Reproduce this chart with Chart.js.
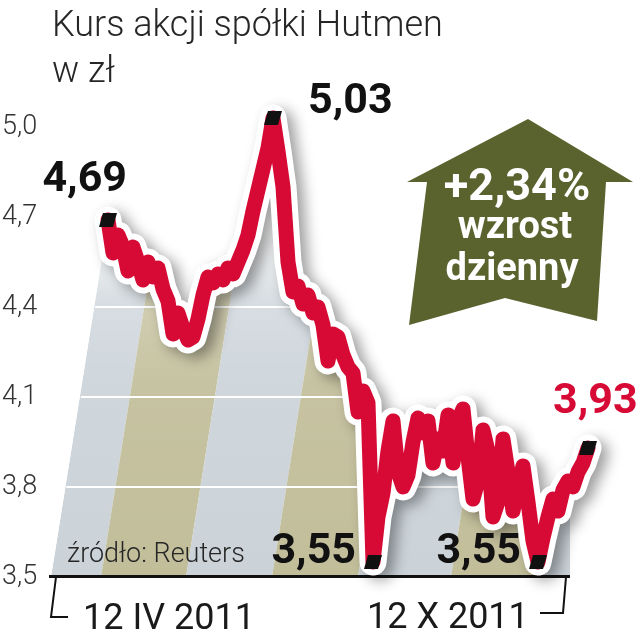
<!DOCTYPE html>
<html lang="pl">
<head>
<meta charset="utf-8">
<title>Kurs akcji spółki Hutmen</title>
<script src="https://cdn.jsdelivr.net/npm/chart.js@4.4.1/dist/chart.umd.min.js"></script>
<style>
html,body{margin:0;padding:0;background:#fff;}
#wrap{width:642px;height:640px;}
</style>
</head>
<body>
<div id="wrap"><canvas id="chart" width="642" height="640"></canvas></div>
<script>
/* Data */
const prices = [
  4.69, 4.58, 4.64, 4.60, 4.52, 4.60, 4.55, 4.49, 4.55, 4.50,
  4.53, 4.46, 4.42, 4.31, 4.38, 4.33, 4.29, 4.30, 4.36, 4.44,
  4.50, 4.48, 4.51, 4.49, 4.53, 4.51, 4.55, 4.59, 4.64, 4.72,
  4.79, 4.86, 4.93, 5.03, 4.92, 4.80, 4.55, 4.45, 4.47, 4.41,
  4.44, 4.38, 4.40, 4.34, 4.22, 4.31, 4.30, 4.24, 4.20, 4.18,
  4.05, 4.12, 4.08,
  3.55, 3.70, 3.78, 3.92, 4.02, 3.85, 3.80, 3.84, 3.95, 4.03,
  3.98, 4.02, 3.88, 3.96, 3.92, 4.04, 3.88, 4.02, 4.06, 3.90,
  3.76, 3.82, 3.99, 3.92, 3.70, 3.75, 3.96, 3.85, 3.72, 3.80,
  3.87, 3.75, 3.62, 3.55, 3.63, 3.70, 3.76, 3.72, 3.79, 3.82,
  3.80, 3.85, 3.88, 3.93
];
const markIdx = [0, 33, 53, 86, 96];
const yTicks = [3.5, 3.8, 4.1, 4.4, 4.7, 5.0];
const xLabels = ['12 IV 2011', '12 X 2011'];
const titleLines = ['Kurs akcji spółki Hutmen', 'w zł'];
const badgeLines = ['+2,34%', 'wzrost', 'dzienny'];
const sourceText = 'źródło: Reuters';

/* Styles */
const RED = '#d70a35', OLIVE = '#5a622e', INK = '#262626';
const SLANT = 0.16;
const bandEdges = [51, 101, 186, 272, 358, 451, 535, 660];
const bandColors = ['#cbd3d9', '#c2be9a'];
const labelPos = [
  {dx: 19, dy: -29, align: 'right', color: '#111'},
  {dx: 35, dy: -5, align: 'left', color: '#111'},
  {dx: -17, dy: 1, align: 'right', color: '#111'},
  {dx: -17, dy: 1, align: 'right', color: '#111'},
  {dx: -35, dy: -35, align: 'left', color: RED}
];
const fmt = (v, d) => v.toFixed(d).replace('.', ',');

/* small slanted square marker */
const mark = document.createElement('canvas');
mark.width = 18; mark.height = 16;
const mc = mark.getContext('2d');
mc.fillStyle = '#111';
mc.beginPath(); mc.moveTo(4, 1); mc.lineTo(18, 1); mc.lineTo(14, 15); mc.lineTo(0, 15); mc.closePath(); mc.fill();

/* banded background under the line + gridlines + baseline */
const bandsPlugin = {
  id: 'bands',
  beforeDatasetsDraw(chart) {
    const {ctx, chartArea: a, scales: {y}} = chart;
    const pts = chart.getDatasetMeta(0).data;
    const bottom = a.bottom, right = 570, h = bottom - a.top;
    ctx.save();
    ctx.beginPath();
    ctx.moveTo(a.left - 1, bottom);
    pts.forEach(p => ctx.lineTo(p.x, p.y));
    ctx.lineTo(pts[pts.length - 1].x, bottom);
    ctx.closePath();
    ctx.clip();
    ctx.beginPath(); ctx.rect(0, 0, right, bottom); ctx.clip();
    for (let i = 0; i < bandEdges.length - 1; i++) {
      const l = bandEdges[i], r = bandEdges[i + 1];
      ctx.fillStyle = bandColors[i % 2];
      ctx.beginPath();
      ctx.moveTo(l, bottom); ctx.lineTo(r, bottom);
      ctx.lineTo(r + SLANT * h, a.top); ctx.lineTo(l + SLANT * h, a.top);
      ctx.closePath(); ctx.fill();
    }
    const g = ctx.createLinearGradient(0, a.top, 0, bottom);
    g.addColorStop(0, 'rgba(255,255,255,1)');
    g.addColorStop(0.27, 'rgba(255,255,255,1)');
    g.addColorStop(0.42, 'rgba(255,255,255,0.25)');
    g.addColorStop(0.6, 'rgba(255,255,255,0.08)');
    g.addColorStop(1, 'rgba(255,255,255,0)');
    ctx.fillStyle = g;
    ctx.fillRect(0, a.top, right, h);
    ctx.strokeStyle = '#fff'; ctx.lineWidth = 2;
    yTicks.slice(1).forEach(v => {
      const py = y.getPixelForValue(v);
      ctx.beginPath(); ctx.moveTo(a.left + SLANT * (bottom - py), py); ctx.lineTo(right, py); ctx.stroke();
    });
    ctx.restore();
    ctx.save();
    ctx.fillStyle = '#111';
    ctx.fillRect(49, bottom - 2, right - 49, 3);
    ctx.restore();
  }
};

const shadowPlugin = {
  id: 'shadow',
  beforeDatasetDraw(chart, args) {
    if (args.index !== 1) return;
    const c = chart.ctx;
    c.save();
    c.shadowColor = 'rgba(0,0,0,0.38)'; c.shadowBlur = 14; c.shadowOffsetX = 7; c.shadowOffsetY = 5;
  },
  afterDatasetDraw(chart, args) {
    if (args.index !== 1) return;
    chart.ctx.restore();
  }
};

/* texts, arrow badge, axis brackets */
const textPlugin = {
  id: 'texts',
  afterDraw(chart) {
    const {ctx, chartArea: a} = chart;
    const pts = chart.getDatasetMeta(0).data;
    ctx.save();
    ctx.textBaseline = 'alphabetic';
    // title
    ctx.fillStyle = INK; ctx.textAlign = 'left';
    ctx.font = '300 36px Roboto';
    ctx.fillText(titleLines[0], 52, 36);
    ctx.fillText(titleLines[1], 52, 82);
    // source
    ctx.font = '300 27px Roboto';
    ctx.fillText(sourceText, 67, 562);
    // x brackets + labels
    ctx.strokeStyle = '#111'; ctx.lineWidth = 2;
    ctx.beginPath(); ctx.moveTo(56, a.bottom); ctx.lineTo(51, 617); ctx.lineTo(68, 617); ctx.stroke();
    ctx.beginPath(); ctx.moveTo(566, a.bottom); ctx.lineTo(563, 613); ctx.lineTo(540, 613); ctx.stroke();
    ctx.font = '400 36px Roboto'; ctx.fillStyle = '#1a1a1a';
    ctx.fillText(xLabels[0], 83, 629);
    ctx.fillText(xLabels[1], 367, 628);
    // arrow badge
    ctx.fillStyle = OLIVE;
    ctx.beginPath();
    [[528, 119], [633, 182], [606, 182], [597, 321], [505, 298], [409, 325], [427, 182], [407, 182]]
      .forEach(([x, yy], i) => i ? ctx.lineTo(x, yy) : ctx.moveTo(x, yy));
    ctx.closePath(); ctx.fill();
    ctx.fillStyle = '#fff'; ctx.textAlign = 'center';
    ctx.font = '700 45px Roboto';
    ctx.fillText(badgeLines[0], 517, 200);
    ctx.font = '700 38px Roboto';
    ctx.fillText(badgeLines[1], 515, 238);
    ctx.fillText(badgeLines[2], 512, 280);
    // value labels
    ctx.font = '700 43px Roboto';
    markIdx.forEach((idx, k) => {
      const p = pts[idx], s = labelPos[k];
      ctx.fillStyle = s.color; ctx.textAlign = s.align;
      ctx.fillText(fmt(prices[idx], 2), p.x + s.dx, p.y + s.dy);
    });
    ctx.restore();
  }
};

const points = prices.map((v, i) => ({x: i, y: v}));

new Chart(document.getElementById('chart'), {
  type: 'line',
  data: {
    datasets: [
      {
        data: points, borderColor: RED, borderWidth: 15, order: 0, clip: false,
        borderJoinStyle: 'round', borderCapStyle: 'round', tension: 0,
        pointStyle: c => markIdx.includes(c.dataIndex) ? mark : 'circle',
        pointRadius: c => markIdx.includes(c.dataIndex) ? 8 : 0
      },
      {
        data: points, borderColor: '#fff', borderWidth: 27, order: 1, clip: false,
        borderJoinStyle: 'round', borderCapStyle: 'round', tension: 0, pointRadius: 0
      }
    ]
  },
  options: {
    responsive: false,
    animation: false,
    events: [],
    layout: {padding: {left: 2, right: 42, top: 97, bottom: 63}},
    plugins: {legend: {display: false}, tooltip: {enabled: false}},
    scales: {
      x: {type: 'linear', display: false, min: -11.2, max: 98.4},
      y: {
        min: 3.5, max: 5.1,
        grid: {display: false}, border: {display: false},
        afterFit: s => { s.width = 50; },
        afterBuildTicks: s => { s.ticks = yTicks.map(v => ({value: v})); },
        ticks: {
          crossAlign: 'far', padding: 0, color: '#333',
          font: {family: 'Roboto', size: 27, weight: '300'},
          callback: v => fmt(v, 1)
        }
      }
    }
  },
  plugins: [bandsPlugin, shadowPlugin, textPlugin]
});
</script>
</body>
</html>
